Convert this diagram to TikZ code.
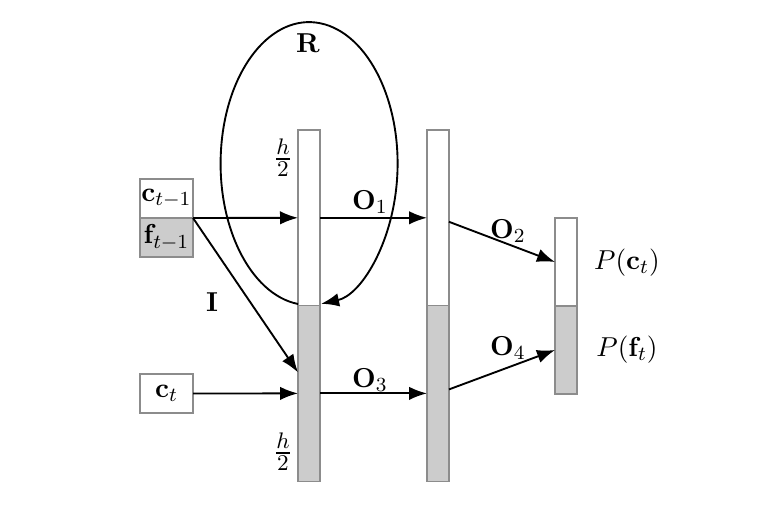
\documentclass[tikz,border=0pt]{standalone}
\usepackage{amsmath}
\usetikzlibrary{arrows.meta}
\definecolor{edge}{HTML}{8C8C8C}
\definecolor{shade}{HTML}{CCCCCC}

\begin{document}
\begin{tikzpicture}[x=0.4pt,y=0.4pt,>={Latex[length=7.2pt,width=5.4pt]},
  font=\fontsize{11}{13}\selectfont,
  half/.style={draw=edge,line width=0.5pt,inner sep=0pt,outer sep=0pt,minimum width=8.8pt,minimum height=70.2pt},
  short/.style={half,minimum height=35.2pt},
  inbox/.style={draw=edge,line width=0.5pt,inner sep=0pt,outer sep=0pt,minimum width=21.2pt,minimum height=15.6pt},
  link/.style={->,line width=0.75pt}]
  \useasboundingbox (0,0) rectangle (764,520);
  % hidden layers
  \node[half] (b1top) at (309,302.2) {};
  \node[half,fill=shade] (b1bot) at (309,126.6) {};
  \node[half] (b2top) at (438,302.2) {};
  \node[half,fill=shade] (b2bot) at (438,126.6) {};
  % output layer
  \node[short] (b3top) at (566,258) {};
  \node[short,fill=shade] (b3bot) at (566,170) {};
  % inputs
  \node[inbox] (cprev) at (166.5,321.5) {$\mathbf{c}_{t-1}$};
  \node[inbox,fill=shade] (fprev) at (166.5,282.5) {$\mathbf{f}_{t-1}$};
  \node[inbox] (ccur) at (166.5,126.5) {$\mathbf{c}_t$};
  % connections
  \draw[link] (cprev.south east) -- (b1top.west);
  \draw[link] (cprev.south east) -- ([yshift=8.4pt]b1bot.west);
  \draw[link] (ccur.east) -- (b1bot.west);
  \draw[link] (b1top.east) -- (b2top.west);
  \draw[link] (b1bot.east) -- (b2bot.west);
  \draw[link] ([yshift=-1.6pt]b2top.east) -- (b3top.west);
  \draw[link] ([yshift=1.6pt]b2bot.east) -- (b3bot.west);
  % recurrence
  \coordinate (rstart) at (298,216);
  \draw[link] (rstart) arc[start angle=262.8,end angle=-82.2,x radius=35.4pt,y radius=56.6pt];
  % labels
  \node (lR) at (308,477) {$\mathbf{R}$};
  \node (lI) at (212,218) {$\mathbf{I}$};
  \node (lO1) at (370,318) {$\mathbf{O}_1$};
  \node (lO3) at (370,140) {$\mathbf{O}_3$};
  \node (lO2) at (508,289) {$\mathbf{O}_2$};
  \node (lO4) at (508,172) {$\mathbf{O}_4$};
  \node[font=\fontsize{13}{15}\selectfont] (hA) at (283,362) {$\frac{h}{2}$};
  \node[font=\fontsize{13}{15}\selectfont] (hB) at (283,68) {$\frac{h}{2}$};
  \node (pc) at (627,257) {$P(\mathbf{c}_t)$};
  \node (pf) at (627,170) {$P(\mathbf{f}_t)$};
\end{tikzpicture}
\end{document}
